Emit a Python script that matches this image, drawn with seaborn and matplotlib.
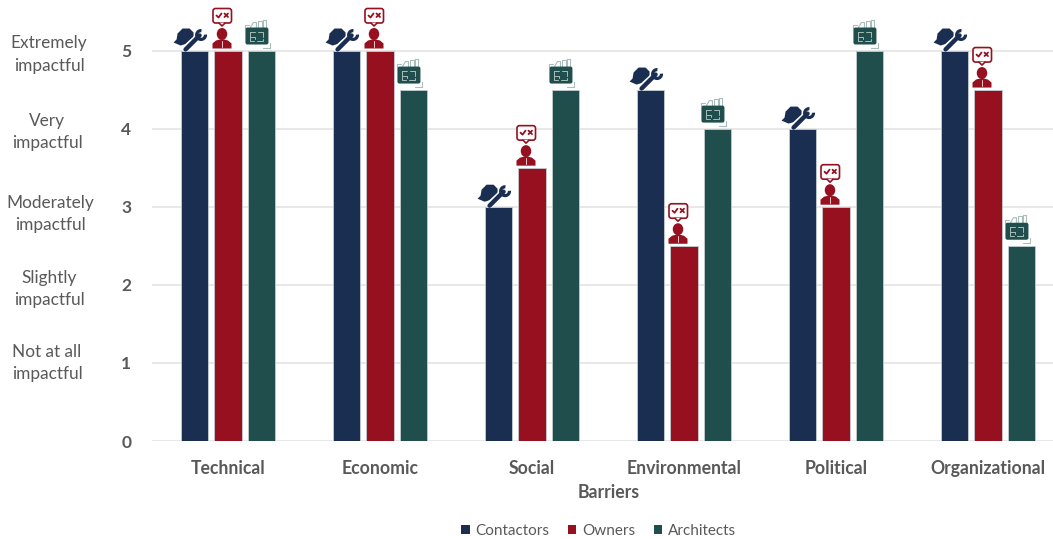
import matplotlib
matplotlib.use("Agg")
import matplotlib.pyplot as plt
from matplotlib.patches import Ellipse, FancyBboxPatch, Polygon, Wedge
from matplotlib.lines import Line2D
from matplotlib.transforms import Affine2D
import pandas as pd
import seaborn as sns

barriers = ["Technical", "Economic", "Social", "Environmental", "Political", "Organizational"]
contactors = [5, 5, 3, 4.5, 4, 5]
owners = [5, 5, 3.5, 2.5, 3, 4.5]
architects = [5, 4.5, 4.5, 4, 5, 2.5]
groups = ["Contactors", "Owners", "Architects"]
colors = ["#1a2e51", "#96101f", "#1f4e4c"]
scale_labels = ["Extremely\nimpactful", "Very\nimpactful", "Moderately\nimpactful",
                "Slightly\nimpactful", "Not at all\nimpactful"]

df = pd.DataFrame({
    "Barriers": barriers * 3,
    "Group": sum([[g] * len(barriers) for g in groups], []),
    "Score": contactors + owners + architects,
})

sns.set_theme(style="white")
plt.rcParams["font.family"] = ["Lato", "DejaVu Sans"]
W, H = 1053, 539
TXT = "#595959"
fig = plt.figure(figsize=(W / 100, H / 100), dpi=100, facecolor="white")
ax = fig.add_axes([152 / W, (H - 441) / H, (W - 152) / W, 441 / H])

sns.barplot(data=df, x="Barriers", y="Score", hue="Group", hue_order=groups,
            order=barriers, palette=colors, width=0.66, gap=0.19, saturation=1,
            edgecolor="#c3ccd2", linewidth=0.6, ax=ax, zorder=3, errorbar=None)

ax.set_xlim(-0.5, (W - 228) / 152)
ax.set_ylim(0, 441 / 78.1)
ax.set_yticks(range(6))
ax.set_xlabel("")
ax.set_ylabel("")
ax.grid(axis="y", color="#e2e2e2", lw=1.1, zorder=0)
ax.grid(axis="x", visible=False)
ax.set_axisbelow(True)
for s in ax.spines.values():
    s.set_visible(False)
ax.tick_params(axis="both", length=0)
ax.tick_params(axis="y", pad=15, labelsize=12.5, labelcolor=TXT)
ax.tick_params(axis="x", pad=14, labelsize=12.7, labelcolor=TXT)
for t in ax.get_xticklabels() + ax.get_yticklabels():
    t.set_fontweight("bold")

fig.text(608.5 / W, 1 - 493 / H, "Barriers", ha="center", va="center",
         fontsize=12.7, fontweight="bold", color=TXT)

label_x = [49, 47, 50, 49, 47]
label_y = [54.5, 132, 214, 289, 363]
for s, lx, ly in zip(scale_labels, label_x, label_y):
    fig.text(lx / W, 1 - ly / H, s, ha="center", va="center", fontsize=12.4,
             color=TXT, linespacing=1.47)

handles, labels = ax.get_legend_handles_labels()
ax.legend_.remove()
for h in handles:
    h.set_edgecolor("none")
fig.legend(handles, labels, loc="center", bbox_to_anchor=(598.5 / W, 1 - 531 / H),
           ncol=3, frameon=False, fontsize=11, labelcolor=TXT,
           handlelength=0.55, handleheight=0.55, handletextpad=0.36,
           columnspacing=1.22, borderpad=0)


def add(art, tr):
    art.set_transform(tr)
    art.set_clip_on(False)
    art.set_zorder(5)
    fig.add_artist(art)


def line(xs, ys, tr, c, lw, cap="round"):
    add(Line2D(xs, ys, color=c, lw=lw, solid_capstyle=cap), tr)


def contractor_icon(tr, c):
    hat = [(-21, -8), (-18, -11), (-17, -17), (-12, -22), (-5, -22), (-1, -18),
           (-1, -12), (-7, -7), (-14, -5)]
    add(Polygon(hat, closed=True, fc=c, ec="none"), tr)
    line([-9, 5], [-2, -15], tr, "white", 5.0)
    line([-9, 5], [-1, -15], tr, c, 3.2)
    add(Wedge((6.5, -15.5), 6, -5, 275, width=3.2, fc=c, ec="none"), tr)


def owner_icon(tr, c):
    add(Ellipse((-6, -16.5), 10.5, 12, fc=c, ec="none"), tr)
    add(Polygon([(-15.5, -2), (-15.5, -7), (-12, -10), (-8, -11), (-4, -11), (0, -10),
                 (3.5, -7), (3.5, -2)], closed=True, fc=c, ec="none"), tr)
    line([-6, -6], [-10, -4], tr, "#e8c8cc", 0.7)
    add(FancyBboxPatch((-15, -42), 18.5, 14.5, boxstyle="round,pad=0,rounding_size=2.5",
                       fc="white", ec=c, lw=1.2), tr)
    add(Polygon([(-9, -27.8), (-6, -24.5), (-3, -27.8)], closed=True, fc="white", ec="none"), tr)
    line([-9, -6, -3], [-27.5, -24.5, -27.5], tr, c, 1.2)
    line([-11.5, -9.5, -6.5], [-35, -33, -37], tr, c, 1.3)
    line([-3.5, 0], [-37, -33.5], tr, c, 1.3)
    line([-3.5, 0], [-33.5, -37], tr, c, 1.3)


def architect_icon(tr, c):
    pale = "#a9bdba"
    for xs, ys in [([-16, -16, -12], [-23, -26, -26]),
                   ([-11, -8, -5, -5], [-23, -28, -28, -23]),
                   ([-3, -3, 1, 1], [-23, -30, -30, -23]),
                   ([2, 2, 5, 5], [-23, -31, -31, -23]),
                   ([2, 8.5, 8.5], [-3, -3, -8])]:
        line(xs, ys, tr, pale, 0.8)
    add(FancyBboxPatch((-16, -23), 23, 17, boxstyle="round,pad=0,rounding_size=2",
                       fc=c, ec="none"), tr)
    for xs, ys in [([-11, -6], [-19, -19]), ([-3, 2, 2], [-19, -19, -14]),
                   ([-11, -11, -7], [-19, -10, -10]), ([-4, 2, 2], [-10, -10, -12]),
                   ([-11, -6, -6], [-14, -14, -12])]:
        line(xs, ys, tr, pale, 0.7)


drawers = [contractor_icon, owner_icon, architect_icon]
for container, draw, col in zip(ax.containers, drawers, colors):
    for bar in container:
        cx = bar.get_x() + bar.get_width() / 2
        px, py = ax.transData.transform((cx, bar.get_height()))
        draw(Affine2D().scale(1, -1).translate(px, py), col)

fig.savefig("out.png", dpi=100, facecolor="white")
